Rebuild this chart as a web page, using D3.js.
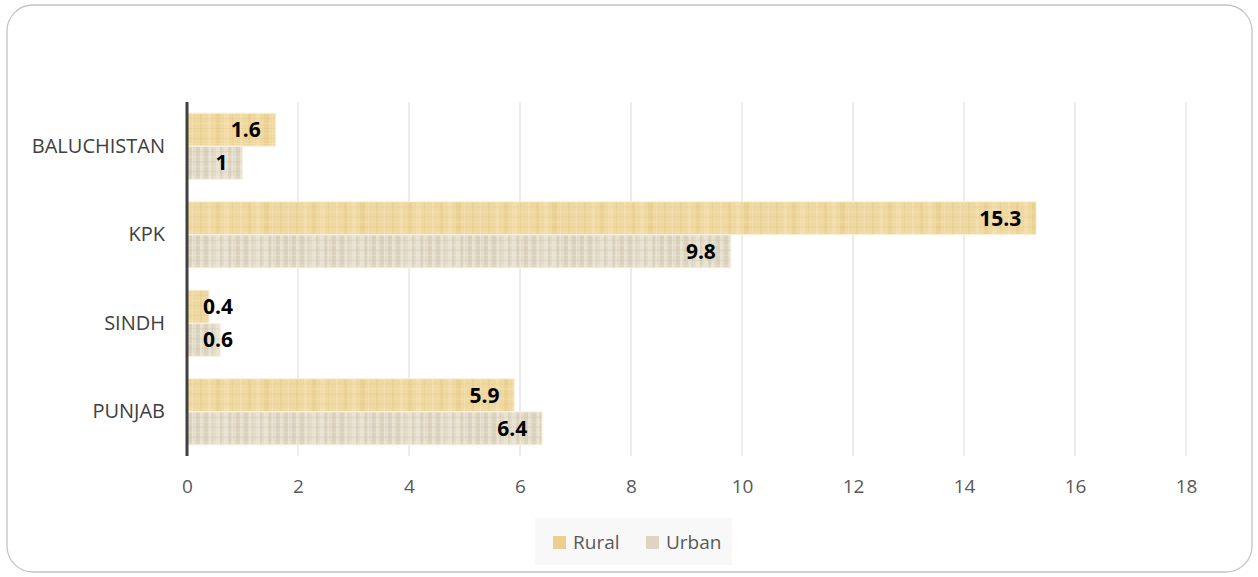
<!DOCTYPE html>
<html>
<head>
<meta charset="utf-8">
<script src="https://cdn.jsdelivr.net/npm/d3@7"></script>
<style>
  body { margin: 0; background: #fff; }
  text { font-family: "Open Sans", "Noto Sans", sans-serif; }
</style>
</head>
<body>
<div id="chart"></div>
<script>
// chart data
var regions = ['BALUCHISTAN', 'KPK', 'SINDH', 'PUNJAB'];
var seriesNames = ['Rural', 'Urban'];
var rural = [1.6, 15.3, 0.4, 5.9];
var urban = [1, 9.8, 0.6, 6.4];
var xTicks = [0, 2, 4, 6, 8, 10, 12, 14, 16, 18];

var width = 1258, height = 577;

var svg = d3.select('#chart').append('svg')
    .attr('width', width)
    .attr('height', height);

// textures for the bars (papyrus-ish look)
var defs = svg.append('defs');

function texture(id, base, dark, light, step) {
    var p = defs.append('pattern')
        .attr('id', id)
        .attr('patternUnits', 'userSpaceOnUse')
        .attr('width', 96).attr('height', 32);
    p.append('rect').attr('width', 96).attr('height', 32).attr('fill', base);
    for (var i = 0; i < 96; i += step) {
        var w = (i * 7) % 5 + 1;
        p.append('rect').attr('x', i).attr('y', 0).attr('width', w).attr('height', 32)
            .attr('fill', (i / step) % 2 ? dark : light).attr('opacity', 0.35);
    }
    for (var j = 0; j < 32; j += 5) {
        p.append('rect').attr('x', 0).attr('y', j).attr('width', 96).attr('height', 1)
            .attr('fill', (j / 5) % 2 ? dark : light).attr('opacity', 0.3);
    }
}
texture('tex-rural', '#efd9a2', '#e2c27c', '#f8e8c0', 8);
texture('tex-urban', '#e4dcca', '#c9bea6', '#f4efe4', 4);

// outer frame
svg.append('rect')
    .attr('x', 7).attr('y', 5)
    .attr('width', 1245).attr('height', 567)
    .attr('rx', 26).attr('ry', 26)
    .attr('fill', '#fff')
    .attr('stroke', '#c4c4c4')
    .attr('stroke-width', 1.3);

var margin = {left: 187, right: 72, top: 102, bottom: 121};

var x = d3.scaleLinear()
    .domain([0, 18])
    .range([margin.left, width - margin.right]);

var y = d3.scaleBand()
    .domain(regions)
    .range([margin.top, height - margin.bottom])
    .paddingInner(0.25)
    .paddingOuter(0.125);

var ySub = d3.scaleBand()
    .domain(seriesNames)
    .range([0, y.bandwidth()]);

// gridlines
svg.append('g')
    .selectAll('line')
    .data(xTicks.slice(1))
    .enter().append('line')
    .attr('x1', function(d) { return x(d); })
    .attr('x2', function(d) { return x(d); })
    .attr('y1', margin.top)
    .attr('y2', height - margin.bottom)
    .attr('stroke', '#d9d9d9')
    .attr('stroke-width', 1);

// x axis labels
var xAxis = d3.axisBottom(x)
    .tickValues(xTicks)
    .tickSize(0)
    .tickPadding(24);

var gx = svg.append('g')
    .attr('transform', 'translate(0,' + (height - margin.bottom) + ')')
    .call(xAxis);
gx.select('.domain').remove();
gx.selectAll('text')
    .attr('font-size', '19px')
    .attr('fill', '#595959')
    .style('font-family', '"Open Sans", sans-serif');

// y axis labels
var yAxis = d3.axisLeft(y).tickSize(0).tickPadding(22);
var gy = svg.append('g')
    .attr('transform', 'translate(' + margin.left + ',0)')
    .call(yAxis);
gy.select('.domain').remove();
gy.selectAll('text')
    .attr('font-size', '20px')
    .attr('fill', '#404040')
    .style('font-family', '"Open Sans", sans-serif');

// bars
var rows = regions.map(function(r, i) {
    return [{region: r, series: 'Rural', value: rural[i]},
            {region: r, series: 'Urban', value: urban[i]}];
});
var flat = [].concat.apply([], rows);

var bars = svg.append('g').selectAll('.bar')
    .data(flat)
    .enter().append('g')
    .attr('class', 'bar')
    .attr('transform', function(d) {
        return 'translate(0,' + (y(d.region) + ySub(d.series)) + ')';
    });

bars.append('rect')
    .attr('x', x(0))
    .attr('y', 0)
    .attr('width', function(d) { return x(d.value) - x(0); })
    .attr('height', ySub.bandwidth())
    .attr('fill', function(d) { return d.series == 'Rural' ? 'url(#tex-rural)' : 'url(#tex-urban)'; })
    .attr('stroke', '#fbf3e2')
    .attr('stroke-width', 1);

bars.append('text')
    .attr('x', function(d) { return x(d.value) - 15; })
    .attr('y', ySub.bandwidth() / 2)
    .attr('dy', '.36em')
    .attr('text-anchor', 'end')
    .attr('font-size', '21px')
    .attr('font-weight', 'bold')
    .attr('fill', '#000')
    .text(function(d) { return d.value; });

// fix labels for tiny bars (they spill past the end)
bars.filter(function(d) { return d.value < 1; })
    .select('text')
    .attr('text-anchor', 'start')
    .attr('x', x(0) + 16);

// y axis line
svg.append('line')
    .attr('x1', x(0)).attr('x2', x(0))
    .attr('y1', margin.top).attr('y2', height - margin.bottom)
    .attr('stroke', '#404040')
    .attr('stroke-width', 3);

// legend
var legend = svg.append('g').attr('transform', 'translate(535,518)');
legend.append('rect')
    .attr('width', 197).attr('height', 47)
    .attr('fill', '#f8f8f8');

var legendItems = legend.selectAll('.item')
    .data(seriesNames)
    .enter().append('g')
    .attr('class', 'item')
    .attr('transform', function(d, i) { return 'translate(' + (18 + i * 93) + ',0)'; });

legendItems.append('rect')
    .attr('x', 0).attr('y', 18)
    .attr('width', 13).attr('height', 13)
    .attr('fill', function(d) { return d == 'Rural' ? '#ebcf8e' : '#ddd4c2'; });

legendItems.append('text')
    .attr('x', 20).attr('y', 24)
    .attr('dy', '.36em')
    .attr('font-size', '19px')
    .attr('fill', '#595959')
    .text(function(d) { return d; });
</script>
</body>
</html>
